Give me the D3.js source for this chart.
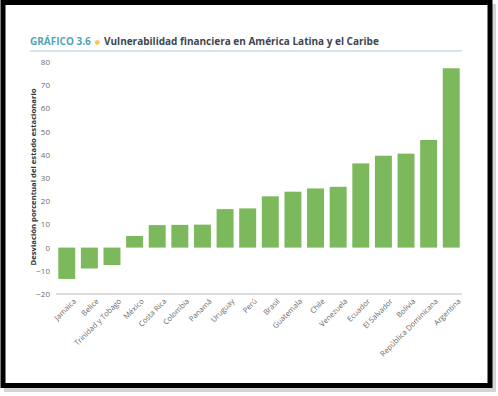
<!DOCTYPE html>
<html>
<head>
<meta charset="utf-8">
<script src="https://cdn.jsdelivr.net/npm/d3@7"></script>
<style>
  body { margin: 0; background: #fff; }
  text { font-family: "Open Sans", "DejaVu Sans", sans-serif; }
</style>
</head>
<body>
<div class="chart"></div>
<script>
// data
var countries = ["Jamaica", "Belice", "Trinidad y Tobago", "México", "Costa Rica", "Colombia",
  "Panamá", "Uruguay", "Perú", "Brasil", "Guatemala", "Chile", "Venezuela", "Ecuador",
  "El Salvador", "Bolivia", "República Dominicana", "Argentina"];
var values = [-13.5, -9, -7.5, 5, 9.7, 9.8, 9.9, 16.6, 16.9, 22.1, 24.1, 25.5, 26.2, 36.3,
  39.6, 40.5, 46.4, 77.3];
var yTicks = [-20, -10, 0, 10, 20, 30, 40, 50, 60, 70, 80];

var svgWidth = 498;
var svgHeight = 396;

var svg = d3.select(".chart")
  .append("svg")
  .attr("width", svgWidth)
  .attr("height", svgHeight);

// shadow + black frame
svg.append("rect")
  .attr("x", 4).attr("y", 4)
  .attr("width", 492).attr("height", 388)
  .attr("fill", "#d4d4d4");
svg.append("rect")
  .attr("x", 3).attr("y", 2.5)
  .attr("width", 487).attr("height", 383)
  .attr("fill", "#fff")
  .attr("stroke", "#000")
  .attr("stroke-width", 5);

// title
var title = svg.append("text")
  .attr("x", 30)
  .attr("y", 45)
  .style("font-size", "10px")
  .style("font-weight", "bold");
title.append("tspan").attr("fill", "#4fa6b8").text("GRÁFICO 3.6");
title.append("tspan").attr("fill", "#f2c74a").attr("dx", 4).text("●").style("font-size", "6px").attr("dy", -1);
title.append("tspan").attr("fill", "#3d4650").attr("dx", 4).attr("dy", 1)
  .text("Vulnerabilidad financiera en América Latina y el Caribe");

svg.append("line")
  .attr("x1", 30).attr("x2", 462)
  .attr("y1", 51).attr("y2", 51)
  .attr("stroke", "#a9cdd5")
  .attr("stroke-width", 1);

var xScale = d3.scaleBand()
  .domain(countries)
  .range([56, 462])
  .paddingInner(0.25)
  .paddingOuter(0.1);

var yScale = d3.scaleLinear()
  .domain([-20, 80])
  .range([294, 62]);

// bars
svg.append("g").selectAll("rect")
  .data(countries)
  .enter()
  .append("rect")
  .attr("x", d => xScale(d))
  .attr("width", xScale.bandwidth())
  .attr("y", (d, i) => yScale(Math.max(0, values[i])))
  .attr("height", (d, i) => Math.abs(yScale(values[i]) - yScale(0)))
  .attr("fill", "#7cb95c");

// y axis (labels only)
var yAxis = svg.append("g")
  .attr("transform", "translate(50,0)")
  .call(d3.axisLeft(yScale).tickValues(yTicks).tickSize(0).tickPadding(0)
    .tickFormat(d => d < 0 ? "\u2212" + Math.abs(d) : d));
yAxis.select(".domain").remove();
yAxis.selectAll("text")
  .style("font-family", "'Open Sans', sans-serif")
  .style("font-size", "8px")
  .attr("fill", "#6b6b6b");

// x axis line at -20
var xAxis = svg.append("g")
  .attr("transform", `translate(0, ${yScale(-20)})`)
  .call(d3.axisBottom(xScale).tickSize(0).tickPadding(6));
xAxis.select(".domain")
  .attr("stroke", "#bbb")
  .attr("d", "M56,0H462");
xAxis.selectAll("text")
  .style("font-family", "'Open Sans', sans-serif")
  .style("font-size", "7.5px")
  .attr("fill", "#6b6b6b")
  .attr("text-anchor", "end")
  .attr("dy", "0.3em")
  .attr("transform", "translate(4,2) rotate(-45)");

// y axis title
svg.append("text")
  .attr("transform", "translate(36,177) rotate(-90)")
  .attr("text-anchor", "middle")
  .style("font-size", "7.7px")
  .style("font-weight", "bold")
  .attr("fill", "#2f353b")
  .text("Desviación porcentual del estado estacionario");
</script>
</body>
</html>
